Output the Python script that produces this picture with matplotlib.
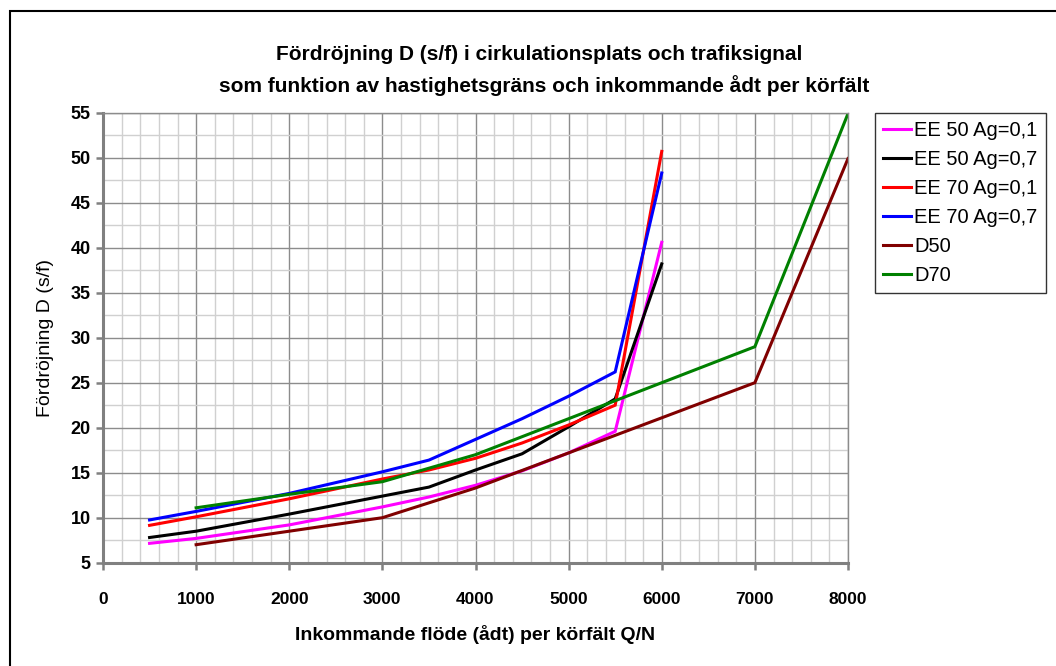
import matplotlib.pyplot as plt
from matplotlib.patches import Rectangle
from matplotlib.ticker import MultipleLocator

plt.rcParams['font.family'] = ['Liberation Sans', 'DejaVu Sans']

# Data
q_ee = [500, 1000, 2000, 3000, 3500, 4000, 4500, 5000, 5500, 6000]
ee50_ag01 = [7.15, 7.7, 9.2, 11.2, 12.3, 13.6, 15.2, 17.2, 19.6, 40.6]
ee50_ag07 = [7.8, 8.5, 10.4, 12.4, 13.4, 15.3, 17.1, 20.1, 23.2, 38.2]
ee70_ag01 = [9.15, 10.1, 12.1, 14.3, 15.3, 16.6, 18.3, 20.3, 22.5, 50.7]
ee70_ag07 = [9.75, 10.7, 12.7, 15.1, 16.4, 18.7, 21.0, 23.5, 26.2, 48.3]

q_d50 = [1000, 2000, 3000, 4000, 7000, 8000]
d50 = [7.0, 8.5, 10.0, 13.3, 25.0, 49.9]
q_d70 = [1000, 2000, 3000, 4000, 7000, 8000]
d70 = [11.1, 12.6, 14.0, 17.0, 29.0, 54.9]

labels = ['EE 50 Ag=0,1', 'EE 50 Ag=0,7', 'EE 70 Ag=0,1', 'EE 70 Ag=0,7', 'D50', 'D70']
colors = ['#ff00ff', '#000000', '#ff0000', '#0000ff', '#800000', '#008000']

fig = plt.figure(figsize=(10.56, 6.66), dpi=100)
ax = fig.add_axes([103 / 1056, 1 - 562.7 / 666, 745 / 1056, 450 / 666])

series = [(q_ee, ee50_ag01), (q_ee, ee50_ag07), (q_ee, ee70_ag01),
          (q_ee, ee70_ag07), (q_d50, d50), (q_d70, d70)]
for (x, y), lab, col in zip(series, labels, colors):
    ax.plot(x, y, color=col, lw=2.2, label=lab, solid_joinstyle='miter')

ax.set_xlim(0, 8000)
ax.set_ylim(5, 55)
ax.xaxis.set_major_locator(MultipleLocator(1000))
ax.xaxis.set_minor_locator(MultipleLocator(200))
ax.yaxis.set_major_locator(MultipleLocator(5))
ax.yaxis.set_minor_locator(MultipleLocator(2.5))

# grid: darker major lines, lighter minor lines
ax.grid(which='major', color='#8c8c8c', lw=1.0)
ax.grid(which='minor', color='#d0d0d0', lw=1.0)
ax.set_axisbelow(True)

for side in ['left', 'bottom']:
    ax.spines[side].set_color('#808080')
    ax.spines[side].set_linewidth(2.2)
for side in ['top', 'right']:
    ax.spines[side].set_color('#8c8c8c')
    ax.spines[side].set_linewidth(1.0)

ax.tick_params(which='major', direction='out', length=5, width=1.8, color='#808080')
ax.tick_params(which='minor', length=0)
ax.tick_params(axis='x', labelsize=12.5, pad=16)
ax.tick_params(axis='y', labelsize=13, pad=4)
for t in ax.get_xticklabels() + ax.get_yticklabels():
    t.set_fontweight('bold')

ax.set_xlabel('Inkommande flöde (ådt) per körfält Q/N', fontsize=14, fontweight='bold', labelpad=13)
ax.set_ylabel('Fördröjning D (s/f)', fontsize=14, labelpad=12)

fig.text(539 / 1056, 1 - 54 / 666, 'Fördröjning D (s/f) i cirkulationsplats och trafiksignal',
         ha='center', va='center', fontsize=15, fontweight='bold')
fig.text(544 / 1056, 1 - 86 / 666, 'som funktion av hastighetsgräns och inkommande ådt per körfält',
         ha='center', va='center', fontsize=15, fontweight='bold')

leg = ax.legend(loc='upper left', bbox_to_anchor=(875 / 1056, 1 - 113 / 666),
                bbox_transform=fig.transFigure, fontsize=14.5, frameon=True,
                fancybox=False, edgecolor='black', handlelength=1.4,
                handletextpad=0.15, labelspacing=0.5, borderaxespad=0,
                borderpad=0.4)
leg.get_frame().set_linewidth(1.0)

# outer chart border
fig.patches.append(Rectangle((10 / 1056, -0.1), 1.2, 1.1 - 11 / 666, transform=fig.transFigure,
                             fill=False, edgecolor='black', lw=1.5))

fig.savefig('out.png', dpi=100)
